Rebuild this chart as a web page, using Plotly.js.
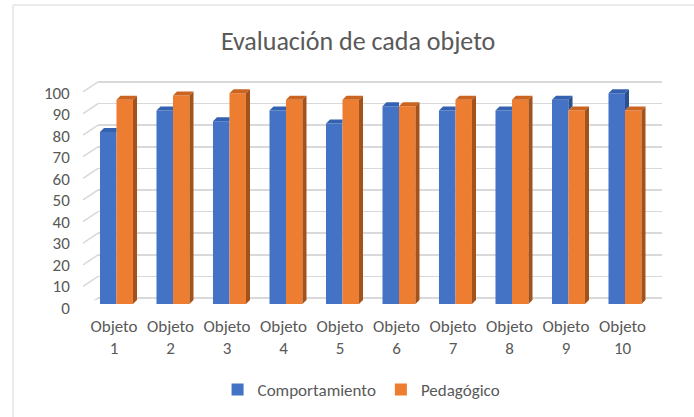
<!DOCTYPE html>
<html><head><meta charset="utf-8">
<script src="https://cdn.plot.ly/plotly-3.0.1.min.js"></script>
<style>html,body{margin:0;padding:0;background:#fff}#chart{width:694px;height:417px}</style>
</head><body><div id="chart"></div>
<script>
const categories = ['Objeto 1','Objeto 2','Objeto 3','Objeto 4','Objeto 5','Objeto 6','Objeto 7','Objeto 8','Objeto 9','Objeto 10'];
const tickLabels = ['Objeto<br>1','Objeto<br>2','Objeto<br>3','Objeto<br>4','Objeto<br>5','Objeto<br>6','Objeto<br>7','Objeto<br>8','Objeto<br>9','Objeto<br>10'];
const comportamiento = [80, 90, 85, 90, 84, 92, 90, 90, 95, 98];
const pedagogico = [95, 97, 98, 95, 95, 92, 95, 95, 90, 90];
const yTicks = [0,10,20,30,40,50,60,70,80,90,100];

const FONT = "Carlito, 'Liberation Sans Narrow', 'DejaVu Sans Condensed', sans-serif";
const TXT = '#595959';
const W = 694, H = 417, ml = 20, mr = 10, mt = 70, mb = 100;
const pw = W - ml - mr, ph = H - mt - mb;
const xd = (a, b) => [(a - ml) / pw, (b - ml) / pw];
const yd = (top, bot) => [(H - mb - bot) / ph, (H - mb - top) / ph];
const px2paperX = p => (p - ml) / pw;
const px2paperY = p => (H - mb - p) / ph;

// 3D look parameters (in data units of the bar axes)
const BW = 0.292, OFF_B = -0.248, OFF_O = 0.044, DX = 0.071, DY = 1.86;
const xs = categories.map((_, i) => i + 1);

function polys(fn) {
  const px = [], py = [];
  xs.forEach((x, i) => {
    const pts = fn(x, comportamiento[i], pedagogico[i]);
    if (!pts) return;
    pts.forEach(p => { px.push(p[0]); py.push(p[1]); });
    px.push(pts[0][0]); py.push(pts[0][1]);
    px.push(null); py.push(null);
  });
  return {px, py};
}
const blueTop = polys((x, b, o) => {
  const xl = x + OFF_B, xr = x + OFF_O;
  return o >= b ? [[xl,b],[xr,b],[xr,b+DY],[xl+DX,b+DY]]
                : [[xl,b],[xr,b],[xr+DX,b+DY],[xl+DX,b+DY]];
});
const blueSide = polys((x, b, o) => {
  const xr = x + OFF_O;
  return b > o ? [[xr,o],[xr,b],[xr+DX,b+DY],[xr+DX,o+DY]] : null;
});
const orangeTop = polys((x, b, o) => {
  const xr = x + OFF_O, xo = x + OFF_O + BW;
  return [[xr,o],[xo,o],[xo+DX,o+DY],[xr+DX,o+DY]];
});
const orangeSide = polys((x, b, o) => {
  const xo = x + OFF_O + BW;
  return [[xo,0],[xo,o],[xo+DX,o+DY],[xo+DX,DY]];
});
function face(p, color) {
  return {type:'scatter', mode:'lines', x:p.px, y:p.py, xaxis:'x2', yaxis:'y2',
    fill:'toself', fillcolor:color, line:{width:0, color:color}, showlegend:false, hoverinfo:'skip'};
}

const data = [
  {type:'scatter', x:[null], y:[null], xaxis:'x', yaxis:'y', showlegend:false, hoverinfo:'skip'},
  {type:'bar', name:'Comportamiento', x:xs, y:comportamiento, xaxis:'x2', yaxis:'y2',
   offset:OFF_B, width:BW, marker:{color:'#4472C4'}},
  {type:'bar', name:'Pedagógico', x:xs, y:pedagogico, xaxis:'x2', yaxis:'y2',
   offset:OFF_O, width:BW, marker:{color:'#ED7D31'}},
  face(blueTop, '#3562B0'),
  face(blueSide, '#2C4F8F'),
  face(orangeTop, '#CB6420'),
  face(orangeSide, '#A4521B')
];

const shapes = [
  {type:'rect', xref:'paper', yref:'paper', x0:px2paperX(13), x1:px2paperX(720), y0:px2paperY(5), y1:px2paperY(440),
   line:{color:'#d9d9d9', width:1}, fillcolor:'rgba(0,0,0,0)', layer:'below'}
];
yTicks.forEach(v => shapes.push({type:'line', xref:'paper', yref:'y', x0:px2paperX(83), x1:px2paperX(98),
  y0:v - 4.6, y1:v, line:{color:'#d9d9d9', width:1.5}, layer:'below'}));

const layout = {
  width: W, height: H,
  margin: {l:ml, r:mr, t:mt, b:mb},
  paper_bgcolor:'#ffffff', plot_bgcolor:'rgba(0,0,0,0)',
  font:{family:FONT, color:TXT, size:17},
  title:{text:'Evaluación de cada objeto', font:{family:FONT, size:26, color:TXT},
    xref:'container', yref:'container', x:0.516, xanchor:'center', y:1 - 41/417, yanchor:'middle'},
  barmode:'overlay',
  showlegend:true,
  legend:{orientation:'h', xref:'container', yref:'container', x:0.521, xanchor:'center', y:1 - 390/417, yanchor:'middle',
    font:{family:FONT, size:17, color:TXT}, traceorder:'normal'},
  xaxis:{domain:xd(98, 662), range:[0,1], visible:false, fixedrange:true},
  yaxis:{domain:yd(79.8, 300.2), range:[-1,101], anchor:'x', tickvals:yTicks, showgrid:true, gridcolor:'#d9d9d9', gridwidth:1.5,
    showticklabels:false, zeroline:false, showline:false, ticks:''},
  xaxis2:{domain:xd(85.75, 650.75), range:[0.5,10.5], anchor:'y2', tickvals:xs, ticktext:tickLabels,
    showgrid:false, zeroline:false, showline:false, ticks:'', tickfont:{family:FONT, size:17, color:TXT}, ticklabelstandoff:10},
  yaxis2:{domain:yd(89, 304), range:[0,100], anchor:'x2', tickvals:yTicks, showgrid:false, zeroline:false, showline:false,
    ticks:'', tickfont:{family:FONT, size:17, color:TXT}, ticklabelstandoff:15, ticklabelshift:4},
  shapes: shapes
};

Plotly.newPlot('chart', data, layout, {staticPlot:true, displayModeBar:false});
</script></body></html>
